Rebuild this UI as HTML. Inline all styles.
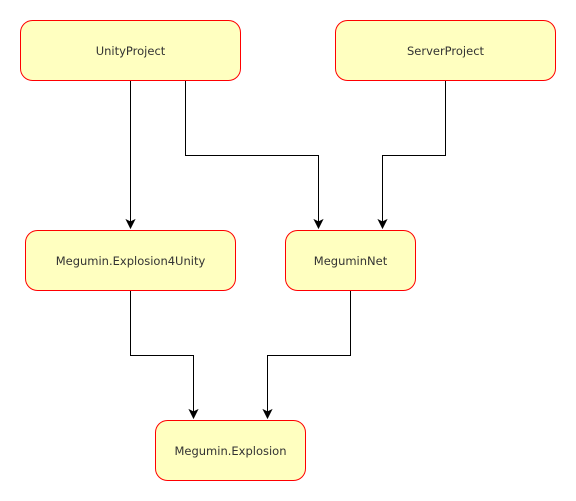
<!DOCTYPE html>
<html><head><meta charset="utf-8"><style>
html,body{margin:0;padding:0;background:#fff;}
svg{display:block;}
text{font-family:"DejaVu Sans","Liberation Sans",sans-serif;font-size:11.5px;fill:#333;}
</style></head><body>
<svg width="576" height="501" viewBox="0 0 576 501" xmlns="http://www.w3.org/2000/svg">
<g fill="none" stroke="#000" stroke-width="1">
<path d="M130.5,80.5 V222" />
<path d="M130.5,222 l-4,-2 l4,8 l4,-8 z" fill="#000"/>
<path d="M185.5,80.5 V155.5 H318.5 V222"/>
<path d="M318.5,222 l-4,-2 l4,8 l4,-8 z" fill="#000"/>
<path d="M445.5,80.5 V155.5 H382.5 V222"/>
<path d="M382.5,222 l-4,-2 l4,8 l4,-8 z" fill="#000"/>
<path d="M130.5,290.5 V355.5 H193.5 V412"/>
<path d="M193.5,412 l-4,-2 l4,8 l4,-8 z" fill="#000"/>
<path d="M350.5,290.5 V355.5 H267.5 V412"/>
<path d="M267.5,412 l-4,-2 l4,8 l4,-8 z" fill="#000"/>
</g>
<g fill="#ffffc0" stroke="#ff0000" stroke-width="1">
<rect x="20.5" y="20.5" width="220" height="60" rx="12"/>
<rect x="335.5" y="20.5" width="220" height="60" rx="12"/>
<rect x="25.5" y="230.5" width="210" height="60" rx="12"/>
<rect x="285.5" y="230.5" width="130" height="60" rx="12"/>
<rect x="155.5" y="420.5" width="150" height="60" rx="12"/>
</g>
<g text-anchor="middle">
<text x="130.5" y="55">UnityProject</text>
<text x="445.5" y="55">ServerProject</text>
<text x="130.5" y="265">Megumin.Explosion4Unity</text>
<text x="350.5" y="265">MeguminNet</text>
<text x="230.5" y="455">Megumin.Explosion</text>
</g>
</svg>
</body></html>
